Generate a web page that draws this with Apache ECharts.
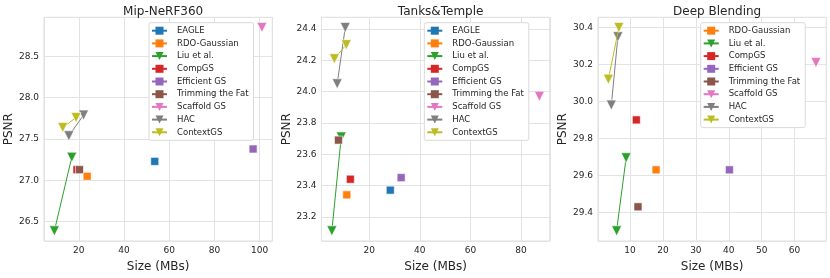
<!DOCTYPE html>
<html><head><meta charset="utf-8">
<script src="https://cdn.jsdelivr.net/npm/echarts@6/dist/echarts.min.js"></script>
<style>html,body{margin:0;padding:0;background:#fff}#c{width:830px;height:278px}</style>
</head><body><div id="c"></div>
<script>
const methods = ['EAGLE','RDO-Gaussian','Liu et al.','CompGS','Efficient GS','Trimming the Fat','Scaffold GS','HAC','ContextGS'];
const colors = ['#1f77b4','#ff7f0e','#2ca02c','#d62728','#9467bd','#8c564b','#e377c2','#7f7f7f','#bcbd22'];
const markers = ['s','s','v','s','s','s','v','v','v'];
const titles = ['Mip-NeRF360','Tanks&Temple','Deep Blending'];

// Mip-NeRF360
const mipSize = [[53.6],[23.7],[9.2,16.9],[19.2],[97.1],[20.3],[101.0],[15.6,22.1],[12.9,18.8]];
const mipPSNR = [[27.23],[27.05],[26.39,27.28],[27.13],[27.38],[27.13],[28.85],[27.54,27.79],[27.64,27.76]];
// Tanks&Temple
const ttSize = [[28.3],[11.1],[5.2,8.9],[12.5],[32.6],[7.8],[87.3],[7.3,10.5],[6.2,10.9]];
const ttPSNR = [[23.37],[23.34],[23.11,23.71],[23.44],[23.45],[23.69],[23.97],[24.05,24.41],[24.21,24.30]];
// Deep Blending (no EAGLE)
const dbSize = [null,[17.9],[5.9,8.8],[11.9],[40.2],[12.4],[66.5],[4.3,6.3],[3.4,6.6]];
const dbPSNR = [null,[29.63],[29.30,29.695],[29.90],[29.63],[29.43],[30.21],[29.98,30.35],[30.12,30.40]];

const sizes = [mipSize, ttSize, dbSize];
const psnrs = [mipPSNR, ttPSNR, dbPSNR];

const plotL = [44, 321.5, 598];
const legendL = [149, 424.3, 700.7];
const plotW = 228.3;
const plotTop = 17.3, plotBottom = 245;
const txt = '#262626';
const FONT = 'DejaVu Sans';
const TRI = 'path://M0,0L2,0L1,2Z';

function ext(arrs){
  let lo=Infinity, hi=-Infinity;
  arrs.forEach(a=>{ if(a) a.forEach(v=>{lo=Math.min(lo,v);hi=Math.max(hi,v);}); });
  const m=(hi-lo)*0.05; return [lo-m, hi+m];
}

const grid=[], xAxis=[], yAxis=[], series=[], legend=[], title=[];
const ySplit=[5,7,5];
for(let p=0;p<3;p++){
  grid.push({left:plotL[p], top:plotTop, width:plotW, height:plotBottom-plotTop, show:true, borderColor:'#dcdcdc', borderWidth:1, backgroundColor:'#fff'});
  const xe=ext(sizes[p]), ye=ext(psnrs[p]);
  xAxis.push({type:'value', gridIndex:p, min:xe[0], max:xe[1], splitNumber:5,
    name:'Size (MBs)', nameLocation:'middle', nameGap:20, nameTextStyle:{fontFamily:FONT,fontSize:12,color:txt},
    axisLine:{show:false}, axisTick:{show:false},
    axisLabel:{fontFamily:FONT,fontSize:9,color:txt,margin:5,showMinLabel:false,showMaxLabel:false},
    splitLine:{show:true,lineStyle:{color:'#e3e3e3',width:1}}});
  yAxis.push({type:'value', gridIndex:p, min:ye[0], max:ye[1], splitNumber:ySplit[p],
    name:'PSNR', nameLocation:'middle', nameGap:26, nameTextStyle:{fontFamily:FONT,fontSize:12,color:txt},
    axisLine:{show:false}, axisTick:{show:false},
    axisLabel:{fontFamily:FONT,fontSize:9,color:txt,margin:5,showMinLabel:false,showMaxLabel:false,
      formatter:v=>v.toFixed(1)},
    splitLine:{show:true,lineStyle:{color:'#e3e3e3',width:1}}});
  title.push({text:titles[p], left:plotL[p]+plotW/2, top:1, textAlign:'center',
    textStyle:{fontFamily:FONT,fontSize:12,fontWeight:'normal',color:txt}});
  const names=[];
  for(let i=0;i<methods.length;i++){
    if(!sizes[p][i]) continue;
    const name=methods[i]+(p>0?'\u200b'.repeat(p):'');
    names.push({name:name});
    const tri=markers[i]==='v';
    series.push({type:'line', name:name, xAxisIndex:p, yAxisIndex:p,
      data:sizes[p][i].map((x,k)=>[x,psnrs[p][i][k]]),
      symbol: tri?TRI:'rect', symbolSize: tri?[10,10]:[8,8],
      lineStyle:{color:colors[i],width:1}, itemStyle:{color:colors[i],borderColor:'#fff',borderWidth:0.6},
      emphasis:{disabled:true}, animation:false, z:2+i*0.01});
  }
  legend.push({data:names, orient:'vertical', left:legendL[p], top:22.7,
    itemWidth:15, itemHeight:10, itemGap:2.7, padding:[3,5,3,2],
    itemStyle:{borderWidth:0},
    backgroundColor:'#fff', borderColor:'#d9d9d9', borderWidth:1, borderRadius:2,
    formatter:n=>n.replace(/\u200b/g,''),
    textStyle:{fontFamily:FONT,fontSize:8.5,color:txt,lineHeight:10,padding:[0,0,0,5]},
    selectedMode:false});
}

const chart=echarts.init(document.getElementById('c'),null,{renderer:'canvas'});
chart.setOption({animation:false, backgroundColor:'#fff', title, grid, xAxis, yAxis, legend, series,
  textStyle:{fontFamily:FONT}});
</script></body></html>
